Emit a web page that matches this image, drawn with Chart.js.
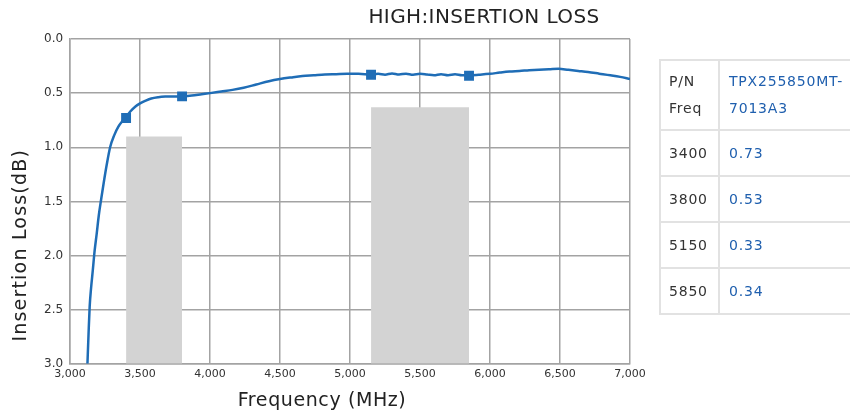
<!DOCTYPE html>
<html>
<head>
<meta charset="utf-8">
<script src="https://cdn.jsdelivr.net/npm/chart.js@4"></script>
<style>
    body { margin: 0; width: 850px; height: 416px; overflow: hidden; background: #fff; position: relative; }
    #title { position: absolute; left: 340px; top: 4px; width: 288px; text-align: center; font: 20px "DejaVu Sans", sans-serif; letter-spacing: 0.4px; color: #222; }
    #spec { position: absolute; left: 659px; top: 59px; width: 300px; table-layout: fixed; border-collapse: collapse; font: 14px "DejaVu Sans", sans-serif; letter-spacing: 0.8px; }
    #spec td { border: 2px solid #e2e2e2; padding: 0 0 0 8px; height: 44px; color: #333; white-space: nowrap; }
    #spec td.v { color: #1f5fae; padding-left: 9px; }
    #spec tr.head td { height: 68px; line-height: 27px; }
</style>
</head>
<body>
<canvas id="myChart" width="850" height="416"></canvas>
<div id="title">HIGH:INSERTION LOSS</div>
<table id="spec">
    <colgroup><col style="width:59px"><col></colgroup>
    <tr class="head"><td>P/N<br>Freq</td><td class="v">TPX255850MT-<br>7013A3</td></tr>
    <tr><td>3400</td><td class="v">0.73</td></tr>
    <tr><td>3800</td><td class="v">0.53</td></tr>
    <tr><td>5150</td><td class="v">0.33</td></tr>
    <tr><td>5850</td><td class="v">0.34</td></tr>
</table>
<script>
// measured curve (MHz, dB)
const freqs = [3124, 3132, 3140, 3150, 3162, 3175, 3190, 3205, 3222, 3240, 3262, 3286, 3315, 3345, 3376,
    3400, 3430, 3465, 3500, 3540, 3580, 3630, 3680, 3740, 3800, 3870, 3940, 4000, 4080, 4160, 4240, 4330,
    4420, 4500, 4580, 4660, 4740, 4820, 4900, 4980, 5060, 5150, 5200, 5250, 5300, 5350, 5400, 5450, 5500,
    5550, 5600, 5650, 5700, 5750, 5800, 5850, 5920, 6000, 6070, 6140, 6210, 6280, 6350, 6420, 6490, 6560,
    6630, 6700, 6780, 6860, 6930, 7000];
const loss = [3.0, 2.72, 2.47, 2.3, 2.14, 1.96, 1.8, 1.63, 1.48, 1.33, 1.16, 1.0, 0.89, 0.81, 0.755,
    0.72, 0.67, 0.625, 0.595, 0.57, 0.55, 0.538, 0.532, 0.53, 0.53, 0.522, 0.51, 0.5, 0.485, 0.47, 0.45, 0.42,
    0.39, 0.37, 0.355, 0.342, 0.335, 0.328, 0.325, 0.322, 0.322, 0.328, 0.322, 0.33, 0.318, 0.328, 0.32, 0.33, 0.322,
    0.328, 0.335, 0.325, 0.334, 0.326, 0.335, 0.335, 0.33, 0.322, 0.31, 0.3, 0.295, 0.288, 0.283, 0.28, 0.275, 0.285,
    0.295, 0.305, 0.32, 0.335, 0.35, 0.37];

// spec points
const specFreqs = [3400, 3800, 5150, 5850];
const specLoss = [0.73, 0.53, 0.33, 0.34];

// pass bands and their limits
const bandStart = [3400, 5150];
const bandEnd = [3800, 5850];
const bandLimit = [0.9, 0.63];

const xTicks = [3000, 3500, 4000, 4500, 5000, 5500, 6000, 6500, 7000];
const yTicks = [0, 0.5, 1.0, 1.5, 2.0, 2.5, 3.0];

const blue = '#1f6db6';
const gridColor = '#a3a3a3';

const bandSets = bandStart.map((s, i) => ({
    data: [{ x: s, y: bandLimit[i] }, { x: bandEnd[i], y: bandLimit[i] }],
    showLine: true,
    borderWidth: 0,
    pointRadius: 0,
    backgroundColor: '#d3d3d3',
    fill: { value: 3 },
    order: 3
}));

// axis titles are placed off-centre in the original
const axisTitles = {
    id: 'axisTitles',
    afterDraw(chart) {
        const ctx = chart.ctx;
        const a = chart.chartArea;
        ctx.save();
        ctx.fillStyle = '#222';
        ctx.font = '19px "DejaVu Sans", sans-serif';
        ctx.letterSpacing = '0.6px';
        ctx.textAlign = 'center';
        ctx.textBaseline = 'middle';
        ctx.fillText('Frequency (MHz)', a.left + (a.right - a.left) * 0.45, 401);
        ctx.letterSpacing = '1.2px';
        ctx.translate(21, a.top + (a.bottom - a.top) * 0.635);
        ctx.rotate(-Math.PI / 2);
        ctx.fillText('Insertion Loss(dB)', 0, 0);
        ctx.restore();
    }
};

const ctx = document.getElementById('myChart').getContext('2d');
const chart = new Chart(ctx, {
    type: 'scatter',
    data: {
        datasets: [
            {
                data: specFreqs.map((f, i) => ({ x: f, y: specLoss[i] })),
                pointStyle: 'rect',
                pointRadius: 7,
                backgroundColor: blue,
                borderColor: blue,
                borderWidth: 0,
                order: 1
            },
            {
                data: freqs.map((f, i) => ({ x: f, y: loss[i] })),
                showLine: true,
                borderColor: blue,
                borderWidth: 2.5,
                pointRadius: 0,
                cubicInterpolationMode: 'monotone',
                order: 2
            },
            ...bandSets
        ]
    },
    options: {
        responsive: false,
        animation: false,
        layout: { padding: { left: 37, right: 220, top: 39, bottom: 31 } },
        plugins: {
            legend: { display: false },
            tooltip: { enabled: false }
        },
        scales: {
            x: {
                type: 'linear',
                min: 3000,
                max: 7000,
                afterBuildTicks: axis => { axis.ticks = xTicks.map(v => ({ value: v })); },
                grid: { color: gridColor, lineWidth: 1.5, drawTicks: false },
                border: { color: gridColor, width: 1.5 },
                ticks: {
                    padding: 4,
                    color: '#333',
                    font: { family: 'DejaVu Sans', size: 11 },
                    callback: v => v.toLocaleString('en-US')
                }
            },
            y: {
                reverse: true,
                min: 0,
                max: 3,
                afterBuildTicks: axis => { axis.ticks = yTicks.map(v => ({ value: v })); },
                grid: { color: gridColor, lineWidth: 1.5, drawTicks: false },
                border: { color: gridColor, width: 1.5 },
                ticks: {
                    padding: 7,
                    color: '#333',
                    font: { family: 'DejaVu Sans', size: 12 },
                    callback: v => v.toFixed(1)
                }
            }
        }
    },
    plugins: [axisTitles]
});
</script>
</body>
</html>
